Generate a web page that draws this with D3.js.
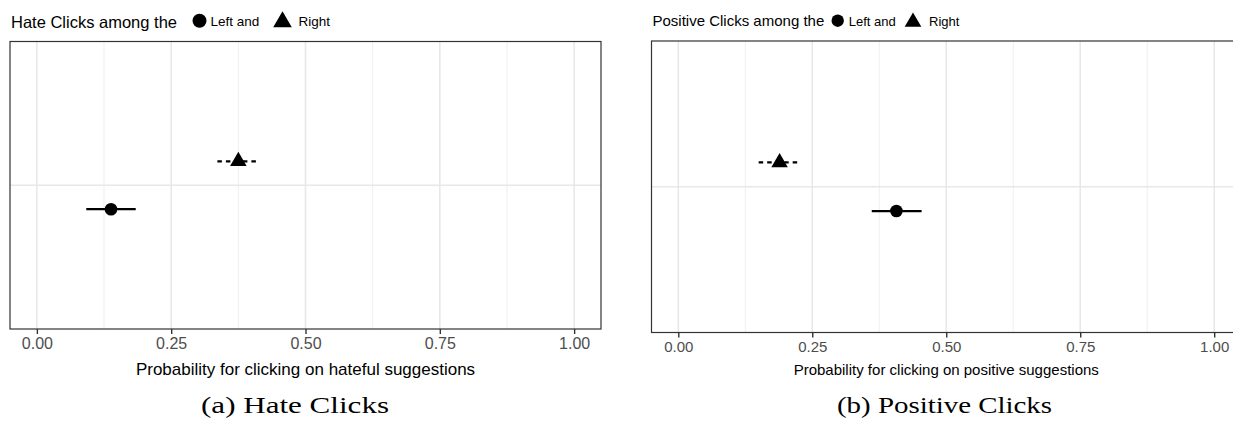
<!DOCTYPE html>
<html>
<head>
<meta charset="utf-8">
<script src="https://cdn.jsdelivr.net/npm/d3@7"></script>
<style>
  html, body { margin: 0; padding: 0; background: #fff; }
  svg { display: block; }
</style>
</head>
<body>
<div id="chart"></div>
<script>
// groups, in legend order
const groups = ['Left', 'Right'];

// estimates with confidence bounds, one entry per group
const hateEst = [0.138, 0.375];
const hateLow = [0.092, 0.336];
const hateHigh = [0.184, 0.413];

const posEst = [0.407, 0.189];
const posLow = [0.361, 0.150];
const posHigh = [0.454, 0.226];

const tickValues = [0, 0.25, 0.5, 0.75, 1];
const tickLabels = ['0.00', '0.25', '0.50', '0.75', '1.00'];
const minorValues = [0.125, 0.375, 0.625, 0.875];

const width = 1233;
const height = 429;
const sans = '"Liberation Sans", Arial, Helvetica, sans-serif';
const serif = '"Liberation Serif", "Times New Roman", serif';

const svg = d3.select('#chart')
  .append('svg')
  .attr('width', width)
  .attr('height', height)
  .attr('viewBox', `0 0 ${width} ${height}`);

// dodge offset on the single discrete level: Left below, Right above
const dodge = {Left: -0.1, Right: 0.1};
const shapes = {Left: d3.symbolCircle, Right: d3.symbolTriangle};
const dashes = {Left: null, Right: '4.5,4'};

function drawPanel(p) {
  const g = svg.append('g');

  const x = d3.scaleLinear()
    .domain([-0.05, 1.05])
    .range([p.left, p.right]);

  const y = d3.scaleLinear()
    .domain([0.4, 1.6])
    .range([p.bottom, p.top]);

  const rows = groups.map((name, i) => ({
    name,
    est: p.est[i],
    low: p.low[i],
    high: p.high[i]
  }));

  // grid
  g.selectAll('.minor')
    .data(minorValues)
    .enter().append('line')
    .attr('x1', d => x(d)).attr('x2', d => x(d))
    .attr('y1', p.top).attr('y2', p.bottom)
    .attr('stroke', '#efefef')
    .attr('stroke-width', 1);

  g.selectAll('.major')
    .data(tickValues)
    .enter().append('line')
    .attr('x1', d => x(d)).attr('x2', d => x(d))
    .attr('y1', p.top).attr('y2', p.bottom)
    .attr('stroke', '#e8e8e8')
    .attr('stroke-width', 1.6);

  g.append('line')
    .attr('x1', p.left).attr('x2', p.right)
    .attr('y1', y(1)).attr('y2', y(1))
    .attr('stroke', '#e8e8e8')
    .attr('stroke-width', 1.6);

  // error bars
  g.selectAll('.bar')
    .data(rows)
    .enter().append('line')
    .attr('x1', d => x(d.low))
    .attr('x2', d => x(d.high))
    .attr('y1', d => y(1 + dodge[d.name]))
    .attr('y2', d => y(1 + dodge[d.name]))
    .attr('stroke', '#000')
    .attr('stroke-width', 2.2)
    .attr('stroke-dasharray', d => dashes[d.name]);

  // points
  g.selectAll('.pt')
    .data(rows)
    .enter().append('path')
    .attr('transform', d => `translate(${x(d.est)},${y(1 + dodge[d.name])})`)
    .attr('d', d => d3.symbol().type(shapes[d.name]).size(d.name === 'Left' ? 125 : 118)())
    .attr('fill', '#000');

  // panel border
  g.append('rect')
    .attr('x', p.left).attr('y', p.top)
    .attr('width', p.right - p.left)
    .attr('height', p.bottom - p.top)
    .attr('fill', 'none')
    .attr('stroke', '#333')
    .attr('stroke-width', 1.2);

  // x axis
  const axis = g.append('g')
    .attr('transform', `translate(0,${p.bottom})`)
    .call(d3.axisBottom(x)
      .tickValues(tickValues)
      .tickFormat((d, i) => tickLabels[i])
      .tickSize(5)
      .tickPadding(p.tickPad));
  axis.select('.domain').remove();
  axis.selectAll('.tick line').attr('stroke', '#333').attr('stroke-width', 1.4);
  axis.selectAll('.tick text')
    .attr('fill', '#4d4d4d')
    .style('font-family', sans)
    .style('font-size', p.tickSize + 'px');

  g.append('text')
    .attr('x', (p.left + p.right) / 2)
    .attr('y', 375)
    .attr('text-anchor', 'middle')
    .style('font-family', sans)
    .style('font-size', p.titleSize + 'px')
    .text(p.xTitle);

  // header with inline legend
  const head = g.append('g');
  head.append('text')
    .attr('x', p.left + 1)
    .attr('y', p.headY)
    .style('font-family', sans)
    .style('font-size', p.headSize + 'px')
    .text(p.head);

  head.append('path')
    .attr('transform', `translate(${p.keyCircle},20.7)`)
    .attr('d', d3.symbol().type(d3.symbolCircle).size(p.keyR * p.keyR * Math.PI)())
    .attr('fill', '#000');
  head.append('text')
    .attr('x', p.keyCircle + 11)
    .attr('y', 25.5)
    .style('font-family', sans)
    .style('font-size', p.keySize + 'px')
    .text(groups[0] + ' and');
  head.append('path')
    .attr('transform', `translate(${p.keyTri},22)`)
    .attr('d', d3.symbol().type(d3.symbolTriangle).size(p.keyTriSize)())
    .attr('fill', '#000');
  head.append('text')
    .attr('x', p.keyTri + 16)
    .attr('y', 25.5)
    .style('font-family', sans)
    .style('font-size', p.keySize + 'px')
    .text(groups[1]);

  // caption below, LaTeX style
  svg.append('text')
    .attr('x', p.capX)
    .attr('y', 413)
    .attr('text-anchor', 'middle')
    .attr('textLength', p.capLen)
    .attr('lengthAdjust', 'spacingAndGlyphs')
    .style('font-family', serif)
    .style('font-size', '24px')
    .text(p.caption);
}

drawPanel({
  left: 10, right: 601, top: 41.5, bottom: 329,
  est: hateEst, low: hateLow, high: hateHigh,
  tickSize: 16, tickPad: 4, titleSize: 17,
  xTitle: 'Probability for clicking on hateful suggestions',
  head: 'Hate Clicks among the', headSize: 16.5, headY: 27.5,
  keyCircle: 199.5, keyR: 7, keyTri: 282.5, keyTriSize: 150, keySize: 13.5,
  caption: '(a) Hate Clicks', capX: 295, capLen: 188
});

drawPanel({
  left: 651.5, right: 1241, top: 41, bottom: 332.5,
  est: posEst, low: posLow, high: posHigh,
  tickSize: 15, tickPad: 4, titleSize: 15,
  xTitle: 'Probability for clicking on positive suggestions',
  head: 'Positive Clicks among the', headSize: 15, headY: 26,
  keyCircle: 837.7, keyR: 6.2, keyTri: 913, keyTriSize: 120, keySize: 13,
  caption: '(b) Positive Clicks', capX: 944.5, capLen: 215
});
</script>
</body>
</html>
